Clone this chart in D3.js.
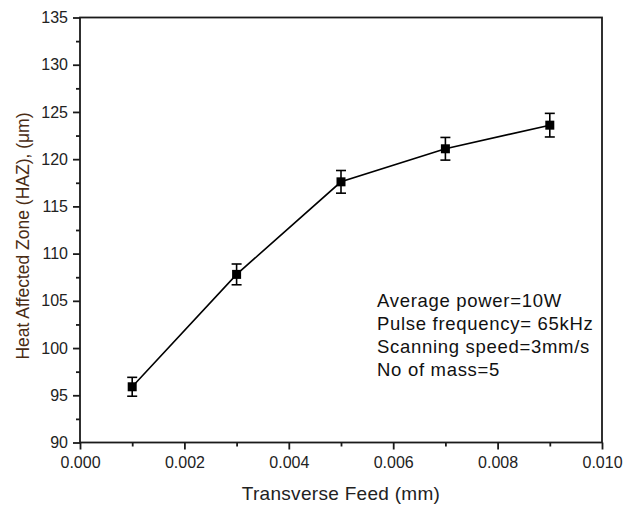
<!DOCTYPE html>
<html>
<head>
<meta charset="utf-8">
<script src="https://cdn.jsdelivr.net/npm/d3@7"></script>
<style>
  body { margin: 0; background: #fff; }
  text { font-family: "Liberation Sans", Arial, sans-serif; }
</style>
</head>
<body>
<div id="chart"></div>
<script>
// data
const feed = [0.001, 0.003, 0.005, 0.007, 0.009];
const haz = [95.9, 107.8, 117.6, 121.1, 123.6];
const hazErr = [1.0, 1.1, 1.2, 1.2, 1.25];
const xTicks = [0, 0.002, 0.004, 0.006, 0.008, 0.010];
const yTicks = [90, 95, 100, 105, 110, 115, 120, 125, 130, 135];
const notes = ['Average power=10W', 'Pulse frequency= 65kHz', 'Scanning speed=3mm/s', 'No of mass=5'];

const config = {
    width: 635,
    height: 507,
    margin: { top: 17.5, right: 33, bottom: 64.5, left: 80 }
};

const boundedWidth = config.width - config.margin.left - config.margin.right;
const boundedHeight = config.height - config.margin.top - config.margin.bottom;

const svg = d3.select('#chart')
    .append('svg')
    .attr('width', config.width)
    .attr('height', config.height);

const viz = svg.append('g')
    .attr('transform', `translate(${config.margin.left},${config.margin.top})`);

const xScale = d3.scaleLinear().domain([0, 0.010]).range([0, boundedWidth]);
const yScale = d3.scaleLinear().domain([90, 135]).range([boundedHeight, 0]);

// minor ticks first so the major ones sit on top
const xMinor = d3.axisBottom(xScale).tickValues(d3.range(0.001, 0.010, 0.002)).tickSize(4).tickFormat('');
const yMinor = d3.axisLeft(yScale).tickValues(d3.range(92.5, 135, 5)).tickSize(4).tickFormat('');

viz.append('g').attr('class', 'axis minor')
    .attr('transform', `translate(0,${boundedHeight})`).call(xMinor);
viz.append('g').attr('class', 'axis minor').call(yMinor);

const xAxisG = viz.append('g').attr('class', 'axis x-axis')
    .attr('transform', `translate(0,${boundedHeight})`)
    .call(d3.axisBottom(xScale).tickValues(xTicks).tickSize(7).tickPadding(7).tickFormat(d3.format('.3f')));
const yAxisG = viz.append('g').attr('class', 'axis y-axis')
    .call(d3.axisLeft(yScale).tickValues(yTicks).tickSize(7).tickPadding(5).tickFormat(d3.format('d')));

viz.selectAll('.axis path.domain').remove();
viz.selectAll('.axis line').attr('stroke', '#1a1a1a').attr('stroke-width', 1.8);
xAxisG.selectAll('text').style('font-size', '16px').attr('fill', '#222');
yAxisG.selectAll('text').style('font-size', '16px').attr('fill', '#222');

// frame
viz.append('rect')
    .attr('x', 0).attr('y', 0)
    .attr('width', boundedWidth).attr('height', boundedHeight)
    .attr('fill', 'none')
    .attr('stroke', '#1a1a1a')
    .attr('stroke-width', 1.8);

// line
const line = d3.line().x((d, i) => xScale(feed[i])).y(d => yScale(d));
viz.append('path')
    .datum(haz)
    .attr('d', line)
    .attr('fill', 'none')
    .attr('stroke', '#000')
    .attr('stroke-width', 1.6);

// error bars
const bars = viz.selectAll('.err')
    .data(haz)
    .join('g')
    .attr('class', 'err')
    .attr('stroke', '#000')
    .attr('stroke-width', 1.6);

bars.append('line')
    .attr('x1', (d, i) => xScale(feed[i])).attr('x2', (d, i) => xScale(feed[i]))
    .attr('y1', (d, i) => yScale(d + hazErr[i])).attr('y2', (d, i) => yScale(d - hazErr[i]));
bars.append('line')
    .attr('x1', (d, i) => xScale(feed[i]) - 5).attr('x2', (d, i) => xScale(feed[i]) + 5)
    .attr('y1', (d, i) => yScale(d + hazErr[i])).attr('y2', (d, i) => yScale(d + hazErr[i]));
bars.append('line')
    .attr('x1', (d, i) => xScale(feed[i]) - 5).attr('x2', (d, i) => xScale(feed[i]) + 5)
    .attr('y1', (d, i) => yScale(d - hazErr[i])).attr('y2', (d, i) => yScale(d - hazErr[i]));

// square markers
viz.selectAll('.point')
    .data(haz)
    .join('rect')
    .attr('class', 'point')
    .attr('x', (d, i) => xScale(feed[i]) - 4.5)
    .attr('y', d => yScale(d) - 4.5)
    .attr('width', 9)
    .attr('height', 9)
    .attr('fill', '#000');

// annotation block
viz.append('g')
    .selectAll('text')
    .data(notes)
    .join('text')
    .attr('x', 297)
    .attr('y', (d, i) => 289 + i * 23.3)
    .attr('fill', '#111')
    .style('font-size', '18.5px')
    .style('letter-spacing', '0.7px')
    .text(d => d);

// axis titles
svg.append('text')
    .attr('x', config.margin.left + boundedWidth / 2)
    .attr('y', 500)
    .attr('text-anchor', 'middle')
    .attr('fill', '#222')
    .style('font-size', '19px')
    .style('letter-spacing', '0.3px')
    .text('Transverse Feed (mm)');

svg.append('text')
    .attr('transform', `translate(29,236) rotate(-90)`)
    .attr('text-anchor', 'middle')
    .attr('fill', '#4a2c14')
    .style('font-size', '17.5px')
    .text('Heat Affected Zone (HAZ), (μm)');
</script>
</body>
</html>
